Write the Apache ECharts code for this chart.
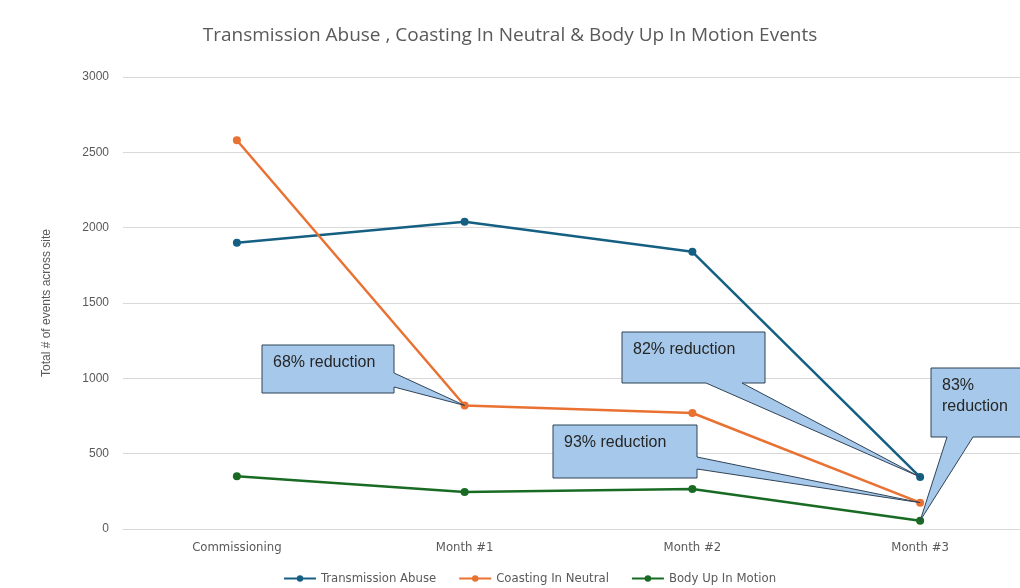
<!DOCTYPE html>
<html>
<head>
<meta charset="utf-8">
<script src="https://cdn.jsdelivr.net/npm/echarts@6/dist/echarts.min.js"></script>
<style>
  html, body { margin: 0; padding: 0; background: #fff; }
  #chart { width: 1020px; height: 588px; }
</style>
</head>
<body>
<div id="chart"></div>
<script>
// data
var categories = ['Commissioning', 'Month #1', 'Month #2', 'Month #3'];
var transmissionAbuse = [1900, 2040, 1840, 345];
var coastingInNeutral = [2580, 820, 770, 175];
var bodyUpInMotion = [350, 245, 265, 55];
var seriesNames = ['Transmission Abuse', 'Coasting In Neutral', 'Body Up In Motion'];
var seriesColors = ['#156082', '#E97132', '#196B24'];

// callouts: text, which series / point the tail points to, box and tail base
var callouts = [
  { text: '68% reduction', s: 1, i: 1, box: [262, 345, 132, 48], side: 'right', a: 373, b: 387 },
  { text: '82% reduction', s: 0, i: 3, box: [622, 332, 143, 51], side: 'bottom', a: 706, b: 742 },
  { text: '93% reduction', s: 1, i: 3, box: [553, 425, 144, 53], side: 'right', a: 457, b: 469 },
  { text: '83%\nreduction', s: 2, i: 3, box: [931, 368, 120, 69], side: 'bottom', a: 947, b: 973 }
];

var myChart = echarts.init(document.getElementById('chart'));
var allData = [transmissionAbuse, coastingInNeutral, bodyUpInMotion];
var narrow = 'Liberation Sans Narrow, DejaVu Sans Condensed, sans-serif';

myChart.setOption({
  animation: false,
  title: {
    text: 'Transmission Abuse , Coasting In Neutral & Body Up In Motion Events',
    left: 'center',
    top: 21,
    textStyle: { fontFamily: 'Open Sans', fontSize: 19, fontWeight: 'normal', color: '#595959' }
  },
  legend: {
    bottom: -2,
    left: 278,
    itemWidth: 32,
    itemHeight: 8,
    itemGap: 22,
    textStyle: { fontFamily: narrow, fontSize: 13, color: '#595959' },
    data: seriesNames
  },
  // plot area runs past the right edge, like the cropped original
  grid: { left: 123, right: -14, top: 77, bottom: 59, outerBoundsMode: 'none', containLabel: false },
  xAxis: {
    type: 'category',
    data: categories,
    boundaryGap: true,
    axisLine: { lineStyle: { color: '#d9d9d9' } },
    axisTick: { length: 6, lineStyle: { color: '#d9d9d9' } },
    axisLabel: { fontFamily: narrow, fontSize: 13, color: '#595959', margin: 12 }
  },
  yAxis: {
    type: 'value',
    min: 0,
    max: 3000,
    interval: 500,
    name: 'Total # of events across site',
    nameLocation: 'middle',
    nameGap: 70,
    nameTextStyle: { fontFamily: 'Liberation Sans', fontSize: 12, color: '#595959' },
    axisLine: { show: false },
    axisTick: { show: false },
    axisLabel: {
      fontFamily: 'Liberation Sans', fontSize: 12, color: '#595959', margin: 14,
      formatter: function (v) { return String(v); }
    },
    splitLine: { lineStyle: { color: '#d9d9d9' } }
  },
  series: allData.map(function (d, k) {
    return {
      name: seriesNames[k],
      type: 'line',
      data: d,
      symbol: 'circle',
      symbolSize: 8,
      color: seriesColors[k],
      lineStyle: { width: 2.5, color: seriesColors[k] },
      itemStyle: { color: seriesColors[k] }
    };
  })
});

// build callout shapes, tails point at the data points via the chart's scales
var graphics = [];
callouts.forEach(function (c) {
  var tip = myChart.convertToPixel({ gridIndex: 0 }, [c.i, allData[c.s][c.i]]);
  var x = c.box[0], y = c.box[1], w = c.box[2], h = c.box[3];
  var pts;
  if (c.side === 'right') {
    pts = [[x, y], [x + w, y], [x + w, c.a], tip, [x + w, c.b], [x + w, y + h], [x, y + h]];
  } else {
    pts = [[x, y], [x + w, y], [x + w, y + h], [c.b, y + h], tip, [c.a, y + h], [x, y + h]];
  }
  graphics.push({
    type: 'polygon',
    shape: { points: pts },
    style: { fill: '#A6C8EA', stroke: '#2F4356', lineWidth: 1 },
    z: 100
  });
  graphics.push({
    type: 'text',
    x: x + 11,
    y: y + 7,
    style: {
      text: c.text,
      fill: '#262626',
      font: '16px "Liberation Sans", sans-serif',
      lineHeight: 21
    },
    z: 101
  });
});
myChart.setOption({ graphic: graphics });
</script>
</body>
</html>
